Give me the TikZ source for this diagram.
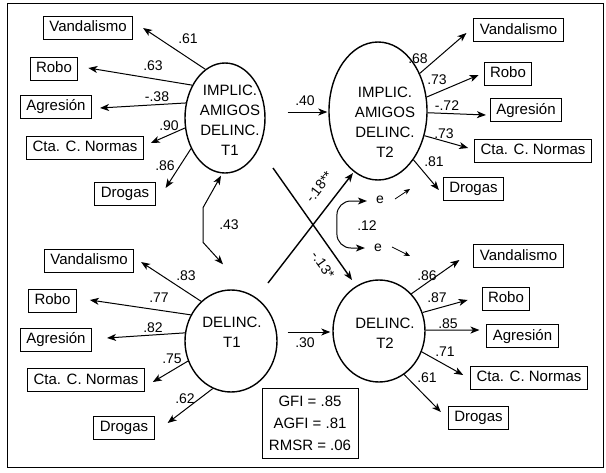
\documentclass[tikz,border=0pt]{standalone}
\usepackage{fontspec}
\setmainfont{Liberation Sans}
\usetikzlibrary{arrows.meta,calc,shapes.geometric}
\begin{document}
\begin{tikzpicture}[x=1pt,y=-1pt,
  box/.style={draw, line width=0.9pt, inner xsep=6pt, inner ysep=0pt, minimum height=23pt,
    font=\fontsize{15}{18}\selectfont, text height=11pt, text depth=3pt},
  lat/.style={draw, ellipse, line width=1.4pt, inner sep=0pt},
  lattext/.style={align=center, inner sep=0pt, font=\fontsize{15}{20}\selectfont},
  lab/.style={font=\fontsize{14}{16}\selectfont, inner sep=0pt},
  arr/.style={-{Stealth[length=9pt,width=7pt,inset=2.5pt]}, line width=1pt},
  corr/.style={{Stealth[length=9pt,width=7pt,inset=2.5pt]}-{Stealth[length=9pt,width=7pt,inset=2.5pt]}, line width=1pt},
  smallarr/.style={-{Stealth[length=6pt,width=5pt,inset=1.5pt]}, line width=0.8pt},
]
\useasboundingbox (0,0) rectangle (606,472);
\draw[line width=1pt] (7,3) rectangle (603,467);

% latent variables
\node[lat, minimum width=80pt, minimum height=110pt] (i1) at (225,118) {};
\node[lattext] (i1t) at (230,120) {IMPLIC.\\AMIGOS\\DELINC.\\T1};
\node[lat, minimum width=98pt, minimum height=138pt] (i2) at (378,111) {};
\node[lattext] (i2t) at (385,122) {IMPLIC.\\AMIGOS\\DELINC.\\T2};
\node[lat, minimum width=92pt, minimum height=102pt] (d1) at (231,341) {};
\node[lattext] (d1t) at (232,332) {DELINC.\\T1};
\node[lat, minimum width=92pt, minimum height=102pt] (d2) at (379,331) {};
\node[lattext] (d2t) at (385,333) {DELINC.\\T2};

% indicator boxes, top left
\node[box] (vA) at (88,27.5) {Vandalismo};
\node[box] (rA) at (54,68.5) {Robo};
\node[box] (aA) at (56,106.5) {Agresión};
\node[box] (cA) at (85,147.5) {Cta. C. Normas};
\node[box] (dA) at (125,193.5) {Drogas};
% top right
\node[box] (vB) at (518.5,30) {Vandalismo};
\node[box] (rB) at (508,73.5) {Robo};
\node[box] (aB) at (526,110) {Agresión};
\node[box] (cB) at (533,150.5) {Cta. C. Normas};
\node[box] (dB) at (473.5,188.5) {Drogas};
% bottom left
\node[box] (vC) at (89,260.5) {Vandalismo};
\node[box] (rC) at (52.5,300.5) {Robo};
\node[box] (aC) at (56,339.5) {Agresión};
\node[box] (cC) at (86,380) {Cta. C. Normas};
\node[box] (dC) at (124,427.5) {Drogas};
% bottom right
\node[box] (vD) at (518.5,256) {Vandalismo};
\node[box] (rD) at (506,298.5) {Robo};
\node[box] (aD) at (522.5,336) {Agresión};
\node[box] (cD) at (529,377.5) {Cta. C. Normas};
\node[box] (dD) at (478.5,417.5) {Drogas};

% loadings, top left
\draw[arr] (i1.112.7) -- ($(vA.east)+(10,0.5)$);
\draw[arr] (i1.135.8) -- ($(rA.east)+(10,-0.5)$);
\draw[arr] (i1.159.4) -- ($(aA.east)+(8,1.5)$);
\draw[arr] (i1.194.7) -- ($(cA.east)+(7,-4.5)$);
\draw[arr] (i1.222.3) -- ($(dA.east)+(10,-5.5)$);
% top right
\draw[arr] (i2.42.6) -- ($(vB.west)+(-7,3)$);
\draw[arr] (i2.16.6) -- ($(rB.west)+(-5,1.5)$);
\draw[arr] (i2.-2.3) -- ($(aB.west)+(-4,5)$);
\draw[arr] (i2.-28) -- ($(cB.west)+(-6,-2.5)$);
\draw[arr] (i2.-54.5) -- ($(dB.west)+(-4,1.5)$);
% bottom left
\draw[arr] (d1.127) -- ($(vC.east)+(7,1.5)$);
\draw[arr] (d1.147.5) -- ($(rC.east)+(13,-0.5)$);
\draw[arr] (d1.170) -- ($(aC.east)+(15,-1.5)$);
\draw[arr] (d1.205) -- ($(cC.east)+(8,2)$);
\draw[arr] (d1.249) -- ($(dC.east)+(13,-4.5)$);
% bottom right
\draw[arr] (d2.49) -- ($(vD.west)+(-14,4)$);
\draw[arr] (d2.23) -- ($(rD.west)+(-14,1.5)$);
\draw[arr] (d2.1) -- ($(aD.west)+(-7,-6)$);
\draw[arr] (d2.-26.6) -- ($(cD.west)+(-7,-2.5)$);
\draw[arr] (d2.-60.7) -- ($(dD.west)+(-7,-5.5)$);

% loading labels
\node[lab] (lA1) at (188,39) {.61};
\node[lab] (lA2) at (153,66) {.63};
\node[lab] (lA3) at (157,97) {-.38};
\node[lab] (lA4) at (169,126) {.90};
\node[lab] (lA5) at (165,166) {.86};
\node[lab] (lB1) at (418,59) {.68};
\node[lab] (lB2) at (437,80) {.73};
\node[lab] (lB3) at (447,106) {-.72};
\node[lab] (lB4) at (444,134) {.73};
\node[lab] (lB5) at (434,162) {.81};
\node[lab] (lC1) at (186,276) {.83};
\node[lab] (lC2) at (159,298) {.77};
\node[lab] (lC3) at (153,328) {.82};
\node[lab] (lC4) at (172,359) {.75};
\node[lab] (lC5) at (185,399) {.62};
\node[lab] (lD1) at (427,276) {.86};
\node[lab] (lD2) at (437,298) {.87};
\node[lab] (lD3) at (448,324) {.85};
\node[lab] (lD4) at (445,352) {.71};
\node[lab] (lD5) at (427,378) {.61};

% structural paths
\draw[arr] ($(i1.east)+(22,-6)$) -- ($(i2.west)+(-1,1)$);
\node[lab] (l40) at (305,101) {.40};
\draw[arr] ($(d1.east)+(10,-9)$) -- ($(d2.west)+(-2,1)$);
\node[lab] (l30) at (305,343) {.30};
\draw[arr, line width=1.4pt] ($(i1.center)+(48,50)$) -- ($(d2.center)+(-27,-51)$);
\draw[arr, line width=1.4pt] ($(d1.center)+(37,-58)$) -- ($(i2.center)+(-25,62)$);
\node[lab, rotate=52.6] (l18) at (319,187) {-.18**};
\node[lab, rotate=-54.5] (l13) at (323,265) {-.13*};

% correlation between T1 factors
\draw[corr] ($(i1.south)+(-4,2)$) -- ($(i1.south)+(-22,34)$) -- ($(d1.north)+(-28,-47)$) -- ($(d1.north)+(-8,-25)$);
\node[lab] (l43) at (229,225) {.43};

% residuals
\node[lab] (e1) at (380,200) {e};
\node[lab] (e2) at (378,248) {e};
\draw[corr, rounded corners=14pt] ($(e1.west)+(-9,1)$) -- ++(-30,0) |- ($(e2.west)+(-9,0)$);
\node[lab] (l12) at (367,226) {.12};
\draw[smallarr] ($(e1)+(15,-1)$) -- ($(e1)+(30,-11)$);
\draw[smallarr] ($(e2)+(14,-1)$) -- ($(e2)+(32,8)$);

% fit indices
\node[draw, line width=0.9pt, minimum width=96pt, minimum height=70pt, align=center,
  font=\fontsize{15}{22}\selectfont] (fit) at (310,423) {GFI = .85\\AGFI = .81\\RMSR = .06};
\end{tikzpicture}
\end{document}
